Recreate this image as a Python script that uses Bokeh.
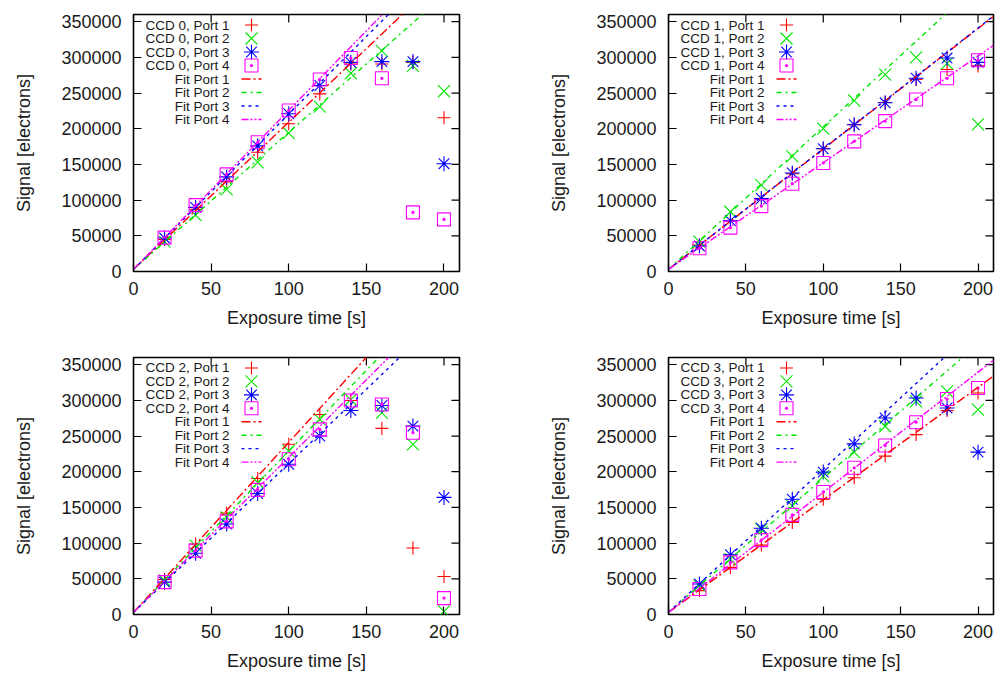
import math
from bokeh.plotting import figure
from bokeh.layouts import gridplot
from bokeh.models import FixedTicker, BasicTickFormatter, Range1d
from bokeh.embed import file_html
from bokeh.resources import INLINE
from bokeh.core.properties import value

# ---------------- data ----------------
exposure_time = [20, 40, 60, 80, 100, 120, 140, 160, 180, 200]
x_ticks = [0, 50, 100, 150, 200]
y_ticks = [0, 50000, 100000, 150000, 200000, 250000, 300000, 350000]

ccd0_port1 = [45000, 87000, 125600, 167000, 207000, 248800, 290700, 290700, 293000, 215300]
ccd0_port2 = [41900, 79000, 115000, 153000, 194000, 231000, 277700, 309000, 288000, 252500]
ccd0_port3 = [47000, 89800, 132500, 176000, 221000, 260500, 293000, 294000, 294000, 151000]
ccd0_port4 = [47400, 93000, 136000, 181000, 225500, 269000, 299000, 270700, 82800, 73000]

ccd1_port1 = [37200, 70700, 101400, 137000, 172000, 205600, 236700, 269000, 283000, 288000]
ccd1_port2 = [41900, 83700, 121000, 161400, 200000, 239500, 275800, 300000, 291600, 206000]
ccd1_port3 = [35800, 71200, 102300, 138000, 172000, 205600, 236300, 270700, 299000, 293000]
ccd1_port4 = [32600, 61400, 91600, 123000, 152000, 182300, 210700, 241000, 270700, 296000]

ccd2_port1 = [49000, 98800, 142000, 190500, 238400, 280200, 299700, 260700, 93200, 53300]
ccd2_port2 = [47700, 96500, 136000, 184900, 229000, 273200, 301000, 282500, 238400, 4400]
ccd2_port3 = [45300, 85800, 126700, 169500, 210400, 250000, 285800, 292800, 263900, 164000]
ccd2_port4 = [45300, 89500, 130400, 174600, 217400, 259300, 299700, 294200, 254600, 23000]

ccd3_port1 = [33500, 66000, 97200, 128800, 161400, 191600, 221900, 252000, 285600, 310200]
ccd3_port2 = [40500, 77700, 119500, 152100, 193900, 227400, 263700, 298600, 312600, 287000]
ccd3_port3 = [42800, 83700, 120900, 161400, 199500, 239000, 275300, 303200, 289300, 227400]
ccd3_port4 = [35800, 73000, 104200, 139500, 171600, 205500, 236700, 269300, 301800, 317200]

# linear fits: slope [electrons/s] per port, common intercept
fit_slope_ccd0 = [2061, 1919, 2174, 2227]
fit_slope_ccd1 = [1687, 1997, 1690, 1494]
fit_slope_ccd2 = [2381, 2260, 2083, 2172]
fit_slope_ccd3 = [1576, 1879, 2003, 1682]
fit_intercept = 3000

port_names = ["Port 1", "Port 2", "Port 3", "Port 4"]

# ---------------- styles ----------------
X0, X1 = 0, 210
Y0, Y1 = 0, 360000
FONT = "Liberation Sans"
colors = ["#ff0000", "#00e600", "#0000ff", "#ff00ff"]
markers = ["cross", "x", "asterisk", "square_dot"]
msizes = [13, 17, 15, 13]
dashes = ["9 3 2 3", "5 4 2 4", "3 4", "7 2 2 2 2 2"]


def make_panel(ccd, series, slopes, left_b, right_b, height, bottom_b):
    p = figure(width=498, height=height,
               x_range=Range1d(X0, X1), y_range=Range1d(Y0, Y1),
               output_backend="svg", toolbar_location=None,
               min_border_left=left_b, min_border_right=right_b,
               min_border_top=14, min_border_bottom=bottom_b,
               x_axis_label="Exposure time [s]", y_axis_label="Signal [electrons]")
    p.grid.visible = False
    p.background_fill_color = "white"
    p.border_fill_color = "white"
    p.outline_line_color = "black"
    p.outline_line_width = 1.6
    p.outline_line_alpha = 1

    for ax, ticks in ((p.xaxis[0], x_ticks), (p.yaxis[0], y_ticks)):
        ax.ticker = FixedTicker(ticks=ticks)
        ax.formatter = BasicTickFormatter(use_scientific=False)
        ax.axis_line_color = None
        ax.major_tick_in = 8
        ax.major_tick_out = 0
        ax.major_tick_line_color = "black"
        ax.major_tick_line_width = 1.2
        ax.minor_tick_line_color = None
        ax.major_label_text_font = FONT
        ax.major_label_text_font_size = "18px"
        ax.major_label_text_color = "#1a1a1a"
        ax.axis_label_text_font = FONT
        ax.axis_label_text_font_size = "18px"
        ax.axis_label_text_font_style = "normal"
        ax.axis_label_text_color = "#1a1a1a"
    p.xaxis[0].major_label_standoff = 10
    p.xaxis[0].axis_label_standoff = 10
    p.yaxis[0].major_label_standoff = 12
    p.yaxis[0].axis_label_standoff = 24

    # mirror ticks on top and right (half of each dash is clipped by the frame)
    p.scatter(x_ticks, [Y1] * len(x_ticks), marker="dash", angle=math.pi / 2, size=16,
              line_color="black", line_width=1.2)
    p.scatter([X1] * len(y_ticks), y_ticks, marker="dash", size=16,
              line_color="black", line_width=1.2)

    # data points
    for k in range(4):
        p.scatter(exposure_time, series[k], marker=markers[k], size=msizes[k],
                  line_color=colors[k], line_width=1.1, fill_color=None)
    # fit lines
    fit_x = [X0, X1]
    for k in range(4):
        fit_y = [fit_intercept + slopes[k] * xv for xv in fit_x]
        p.line(fit_x, fit_y, line_color=colors[k], line_width=1.4, line_dash=dashes[k])

    # key (gnuplot style: text right-aligned, sample at right)
    fw = 498 - left_b - right_b
    fh = height - 14 - bottom_b

    def sx(px):
        return X0 + px / fw * (X1 - X0)

    def sy(py):
        return Y1 - py / fh * (Y1 - Y0)

    rows = [sy(10.5 + 13.5 * i) for i in range(8)]
    labels = [f"CCD {ccd}, {n}" for n in port_names] + [f"Fit {n}" for n in port_names]
    p.text(x=[sx(96)] * 8, y=rows, text=labels, text_align="right", text_baseline="middle",
           text_font=value(FONT), text_font_size="13.5px", text_color="#1a1a1a")
    for k in range(4):
        p.scatter([sx(118)], [rows[k]], marker=markers[k], size=msizes[k],
                  line_color=colors[k], line_width=1.1, fill_color=None)
        p.segment(x0=[sx(108)], x1=[sx(128)], y0=[rows[4 + k]], y1=[rows[4 + k]],
                  line_color=colors[k], line_width=1.4, line_dash=dashes[k])
    return p


p0 = make_panel(0, [ccd0_port1, ccd0_port2, ccd0_port3, ccd0_port4], fit_slope_ccd0, 133, 39, 343, 72)
p1 = make_panel(1, [ccd1_port1, ccd1_port2, ccd1_port3, ccd1_port4], fit_slope_ccd1, 170, 3, 343, 72)
p2 = make_panel(2, [ccd2_port1, ccd2_port2, ccd2_port3, ccd2_port4], fit_slope_ccd2, 133, 39, 330, 58)
p3 = make_panel(3, [ccd3_port1, ccd3_port2, ccd3_port3, ccd3_port4], fit_slope_ccd3, 170, 3, 330, 58)

grid = gridplot([[p0, p1], [p2, p3]], toolbar_location=None)

open("out.html", "w").write(file_html(grid, INLINE))
